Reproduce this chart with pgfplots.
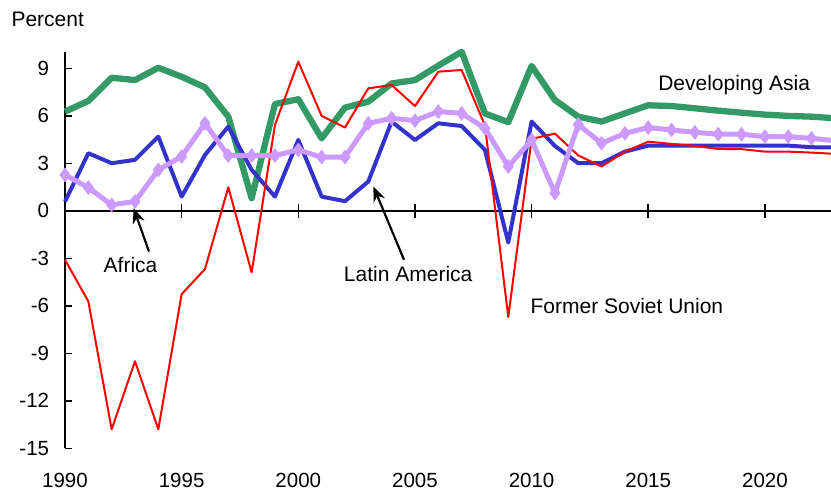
\documentclass[border=0pt]{standalone}
\usepackage{fontspec}
\setmainfont{Liberation Sans}
\usepackage{pgfplots}
\pgfplotsset{compat=1.18}
\usetikzlibrary{arrows.meta}
\definecolor{asia}{RGB}{51,153,102}
\definecolor{latam}{RGB}{51,51,204}
\definecolor{fsu}{RGB}{255,0,0}
\definecolor{africa}{RGB}{204,153,255}
\begin{document}
\begin{tikzpicture}[font=\fontsize{21}{25}\selectfont]
\useasboundingbox (0,0) rectangle (831pt,491pt);
\begin{axis}[
  at={(65pt,42.7pt)}, anchor=south west,
  x=23.33pt, y=15.83pt,
  xmin=1990, xmax=2022.83, ymin=-15, ymax=10.05,
  axis x line*=middle, axis y line*=left,
  axis line style={line width=1.6pt, black},
  every tick/.style={line width=1.6pt, black},
  clip=false,
  hide obscured y ticks=false,
  hide obscured x ticks=false,
  tick align=inside,
  major tick length=6.7pt,
  xtick={1990,1995,2000,2005,2010,2015,2020},
  xticklabels={1990,1995,2000,2005,2010,2015,2020},
  extra x ticks={1995,2000,2005,2010,2015,2020},
  extra x tick labels={},
  extra x tick style={tick align=outside},
  ytick={-15,-12,-9,-6,-3,0,3,6,9},
  yticklabels={-15,-12,-9,-6,-3,0,3,6,9},
  tick label style={font=\fontsize{20.5}{24}\selectfont},
  xticklabel style={anchor=center, inner sep=0pt, yshift=-269.15pt},
  yticklabel style={anchor=east, inner sep=0pt, xshift=-15.7pt},
  line join=round,
]
\addplot[color=asia, line width=6.3pt, mark=none] coordinates {
(1990,6.27)(1991,6.94)(1992,8.41)(1993,8.26)(1994,9.04)(1995,8.47)(1996,7.8)(1997,5.95)(1998,0.8)(1999,6.75)
(2000,7.05)(2001,4.58)(2002,6.52)(2003,6.9)(2004,8.05)(2005,8.26)(2006,9.17)(2007,10.05)(2008,6.15)(2009,5.6)
(2010,9.15)(2011,7.0)(2012,5.95)(2013,5.64)(2014,6.16)(2015,6.67)(2016,6.62)(2017,6.48)(2018,6.33)(2019,6.2)
(2020,6.08)(2021,6.0)(2022,5.95)(2023,5.85)};
\addplot[color=latam, line width=4pt, mark=none] coordinates {
(1990,0.59)(1991,3.64)(1992,3.01)(1993,3.22)(1994,4.69)(1995,0.9)(1996,3.53)(1997,5.32)(1998,2.59)(1999,0.9)
(2000,4.48)(2001,0.9)(2002,0.61)(2003,1.85)(2004,5.64)(2005,4.48)(2006,5.53)(2007,5.36)(2008,3.85)(2009,-2.0)
(2010,5.64)(2011,4.1)(2012,3.01)(2013,3.01)(2014,3.74)(2015,4.12)(2016,4.12)(2017,4.12)(2018,4.12)(2019,4.12)
(2020,4.12)(2021,4.12)(2022,4.02)(2023,4.0)};
\addplot[color=fsu, line width=2pt, mark=none] coordinates {
(1990,-3.09)(1991,-5.72)(1992,-13.8)(1993,-9.5)(1994,-13.8)(1995,-5.26)(1996,-3.68)(1997,1.49)(1998,-3.89)(1999,5.43)
(2000,9.42)(2001,6.0)(2002,5.26)(2003,7.74)(2004,7.95)(2005,6.62)(2006,8.79)(2007,8.9)(2008,5.4)(2009,-6.71)
(2010,4.55)(2011,4.88)(2012,3.5)(2013,2.8)(2014,3.74)(2015,4.37)(2016,4.23)(2017,4.1)(2018,3.91)(2019,3.9)
(2020,3.74)(2021,3.74)(2022,3.68)(2023,3.6)};
\addplot[color=africa, line width=5pt, mark=diamond*, mark size=7pt, mark options={solid, fill=africa, line width=0.5pt}] coordinates {
(1990,2.27)(1991,1.47)(1992,0.38)(1993,0.59)(1994,2.59)(1995,3.43)(1996,5.53)(1997,3.49)(1998,3.49)(1999,3.49)
(2000,3.85)(2001,3.39)(2002,3.39)(2003,5.53)(2004,5.85)(2005,5.7)(2006,6.27)(2007,6.16)(2008,5.22)(2009,2.8)
(2010,4.48)(2011,1.12)(2012,5.45)(2013,4.27)(2014,4.9)(2015,5.26)(2016,5.11)(2017,4.96)(2018,4.84)(2019,4.84)
(2020,4.69)(2021,4.69)(2022,4.58)(2023,4.43)};
\draw[line width=2.2pt, -{Stealth[length=15pt, width=12pt]}] (axis cs:1993.60,-2.57) -- (axis cs:1992.94,0.17);
\draw[line width=2.2pt, -{Stealth[length=15pt, width=12pt]}] (axis cs:2004.53,-3.09) -- (axis cs:2003.22,1.54);
\node[anchor=base west, inner sep=0pt] at (axis cs:1987.70,11.64) {Percent};
\node[anchor=base west, inner sep=0pt] at (axis cs:2015.42,7.6) {Developing Asia};
\node[anchor=base west, inner sep=0pt] at (axis cs:2009.95,-6.51) {Former Soviet Union};
\node[anchor=base west, inner sep=0pt] at (axis cs:2001.95,-4.47) {Latin America};
\node[anchor=base west, inner sep=0pt] at (axis cs:1991.65,-3.9) {Africa};
\end{axis}
\end{tikzpicture}
\end{document}
